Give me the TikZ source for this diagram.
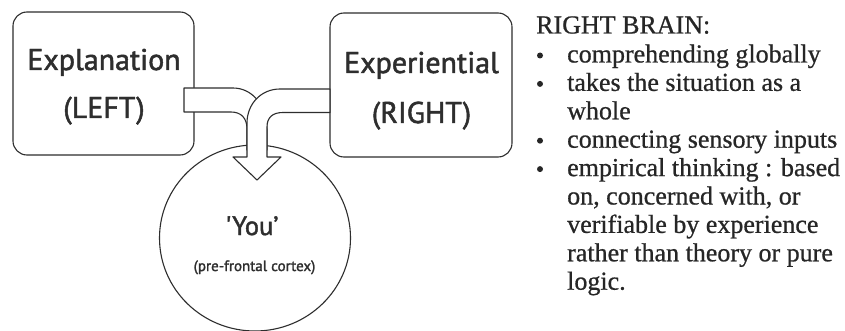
\documentclass[tikz,border=0pt]{standalone}
\usepackage{fontspec}
\setmainfont{Liberation Serif}
\newfontfamily\notefont[FakeBold=0.7]{Liberation Serif}
\newfontfamily\labelfont[FakeBold=1.6]{PT Sans}
\usetikzlibrary{shapes.geometric}
\definecolor{ink}{HTML}{2E2E2E}
\definecolor{printink}{HTML}{262626}
\begin{document}
\begin{tikzpicture}[x=1pt,y=-1pt,
  outline/.style={draw=ink, line width=1.1pt},
  panel/.style={outline, rounded corners=14pt, inner sep=0pt},
  band/.style={outline, fill=white, line join=round},
  title/.style={font=\labelfont\fontsize{30}{36}\selectfont, text=ink, anchor=base, inner sep=0pt},
  selflabel/.style={font=\labelfont\fontsize{26.5}{30}\selectfont, text=ink, anchor=base, inner sep=0pt},
  sublabel/.style={font=\labelfont\fontsize{15}{18}\selectfont, text=ink, anchor=base, inner sep=0pt},
  listline/.style={font=\notefont\fontsize{26}{28}\selectfont, text=printink, anchor=base west, inner sep=0pt},
  bulletmark/.style={circle, fill=printink, inner sep=0pt, minimum size=6pt}
]
% page
\useasboundingbox (0,0) rectangle (845,331);
\fill[white] (0,0) rectangle (845,331);

% the two hemispheres
\node[panel, minimum width=181pt, minimum height=143pt] (left) at (103.5,83.5) {};
\node[panel, minimum width=182pt, minimum height=144pt] (right) at (421,85) {};

% the self
\node[outline, ellipse, inner sep=0pt, minimum width=191pt, minimum height=186pt] (self) at (255,238) {};

% band coming from the left box, bending down
\draw[band] (184,88) -- (233,88) .. controls (252,88) and (267,105) .. (267,130)
  -- (267,150) -- (247,150) -- (247,129) .. controls (247,118) and (241,112) .. (231,112)
  -- (184,112) -- cycle;

% band coming from the right box, bending down into the arrow head
\draw[band] (330,89) -- (280,89) .. controls (261,89) and (247,104) .. (247,123)
  -- (247,157) -- (233,157) -- (257,180) -- (281,157) -- (267,157)
  -- (267,127) .. controls (267,118) and (272,112.5) .. (283,112.5)
  -- (330,112.5) -- cycle;

% box titles
\node[title] (lefttitle) at (104,70) {Explanation};
\node[title] (leftsub) at (104,118) {(LEFT)};
\node[title] (righttitle) at (421.5,73) {Experiential};
\node[title] (rightsub) at (421.5,123) {(RIGHT)};

% circle labels
\node[selflabel] (you) at (252,235) {'You’};
\node[sublabel] (cortex) at (254.5,271) {(pre-frontal cortex)};

% notes on the right brain
\node[listline] (head) at (536,33.5) {RIGHT BRAIN:};
\node[bulletmark] (b1) at (540,55.5) {};
\node[listline] (l1) at (567,62.5) {comprehending globally};
\node[bulletmark] (b2) at (540,83.9) {};
\node[listline] (l2) at (567,90.9) {takes the situation as a};
\node[listline] (l3) at (567,119.3) {whole};
\node[bulletmark] (b3) at (540,140.7) {};
\node[listline] (l4) at (567,147.7) {connecting sensory inputs};
\node[bulletmark] (b4) at (540,169.1) {};
\node[listline] (l5) at (567,176.1) {empirical thinking : based};
\node[listline] (l6) at (567,204.5) {on, concerned with, or};
\node[listline] (l7) at (567,232.9) {verifiable by experience};
\node[listline] (l8) at (567,261.3) {rather than theory or pure};
\node[listline] (l9) at (567,289.7) {logic.};
\end{tikzpicture}
\end{document}
